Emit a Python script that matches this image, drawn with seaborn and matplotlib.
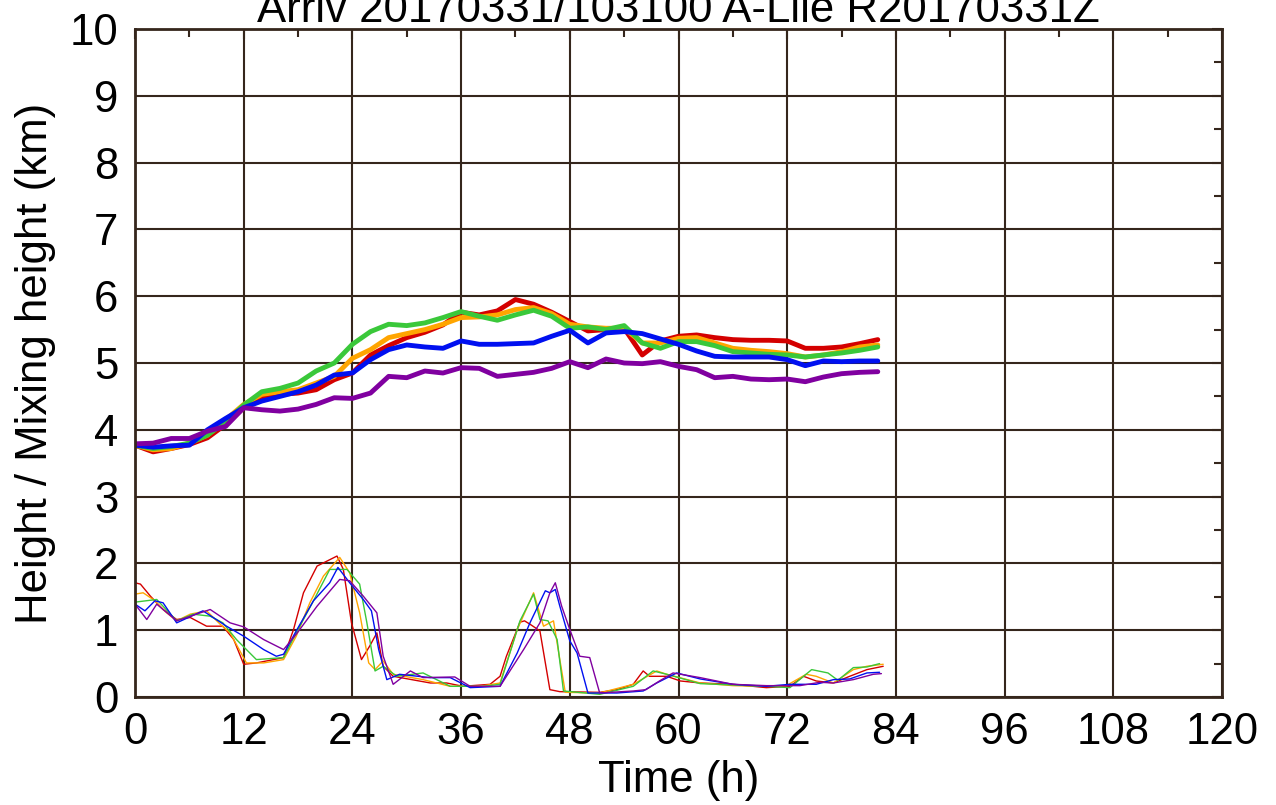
import matplotlib
matplotlib.use("Agg")
import matplotlib.pyplot as plt
from matplotlib.ticker import MultipleLocator
import numpy as np
import pandas as pd
import seaborn as sns

# ---------------- data ----------------
title = "Arriv 20170331/103100 A-Lile R20170331Z"
x_label = "Time (h)"
y_label = "Height / Mixing height (km)"
x_ticks = [0, 12, 24, 36, 48, 60, 72, 84, 96, 108, 120]
y_ticks = [0, 1, 2, 3, 4, 5, 6, 7, 8, 9, 10]

# trajectory heights (thick lines), every 2 h from 0 to 82 h
traj_time = list(range(0, 84, 2))
traj_red = [3.77, 3.67, 3.72, 3.78, 3.88, 4.08, 4.33, 4.48, 4.53, 4.55, 4.60, 4.75,
            4.85, 5.12, 5.26, 5.38, 5.46, 5.57, 5.76, 5.72, 5.78, 5.95, 5.88, 5.76,
            5.62, 5.48, 5.50, 5.52, 5.12, 5.33, 5.40, 5.42, 5.38, 5.35, 5.34, 5.34,
            5.33, 5.22, 5.22, 5.24, 5.29, 5.35]
traj_orange = [3.77, 3.70, 3.72, 3.80, 3.92, 4.15, 4.38, 4.53, 4.57, 4.60, 4.70, 4.80,
               5.07, 5.20, 5.38, 5.44, 5.50, 5.58, 5.68, 5.69, 5.72, 5.80, 5.83, 5.74,
               5.58, 5.54, 5.52, 5.52, 5.30, 5.30, 5.37, 5.38, 5.30, 5.22, 5.19, 5.17,
               5.14, 5.09, 5.12, 5.17, 5.24, 5.27]
traj_green = [3.77, 3.72, 3.75, 3.80, 3.92, 4.12, 4.37, 4.57, 4.62, 4.70, 4.88, 5.00,
              5.28, 5.47, 5.58, 5.56, 5.60, 5.68, 5.77, 5.70, 5.64, 5.72, 5.79, 5.70,
              5.52, 5.54, 5.50, 5.56, 5.30, 5.22, 5.32, 5.32, 5.26, 5.17, 5.15, 5.13,
              5.12, 5.09, 5.12, 5.15, 5.19, 5.24]
traj_blue = [3.77, 3.74, 3.76, 3.77, 4.00, 4.17, 4.33, 4.43, 4.50, 4.57, 4.67, 4.82,
             4.85, 5.05, 5.20, 5.27, 5.24, 5.22, 5.33, 5.28, 5.28, 5.29, 5.30, 5.40,
             5.49, 5.30, 5.45, 5.47, 5.44, 5.36, 5.28, 5.18, 5.10, 5.09, 5.09, 5.09,
             5.05, 4.96, 5.03, 5.02, 5.03, 5.03]
traj_purple = [3.79, 3.80, 3.87, 3.87, 3.98, 4.05, 4.33, 4.30, 4.28, 4.31, 4.38, 4.48,
               4.47, 4.55, 4.80, 4.78, 4.88, 4.85, 4.93, 4.92, 4.80, 4.83, 4.86, 4.92,
               5.02, 4.93, 5.06, 5.00, 4.99, 5.02, 4.95, 4.90, 4.78, 4.80, 4.76, 4.75,
               4.76, 4.72, 4.79, 4.84, 4.86, 4.87]

# mixing heights (thin lines)
mix_red_t = [0, 0.6, 1.7, 3.1, 4.6, 6.1, 7.9, 9.7, 10.9, 12, 13.4, 15.3, 16.4, 17.5, 18.6,
             20.1, 22.3, 23, 23.9, 25, 25.9, 26.7, 27.4, 28.5, 32.6, 34.4, 36.2, 39.2, 40.3,
             41, 42.5, 43, 43.6, 44.7, 45.8, 46.9, 51.3, 53.2, 55, 56.1, 56.8, 58.7, 60.2,
             62.4, 66, 69.7, 72.3, 73.8, 75.2, 77.1, 78.9, 80.8, 82.6]
mix_red = [1.71, 1.69, 1.51, 1.31, 1.16, 1.19, 1.06, 1.06, 0.86, 0.49, 0.51, 0.56, 0.59, 1.01,
           1.56, 1.96, 2.11, 1.91, 1.11, 0.56, 0.76, 0.96, 0.46, 0.31, 0.21, 0.21, 0.16, 0.19,
           0.31, 0.61, 1.12, 1.14, 1.09, 0.99, 0.11, 0.08, 0.07, 0.11, 0.19, 0.39, 0.31, 0.31,
           0.24, 0.21, 0.19, 0.14, 0.16, 0.31, 0.24, 0.21, 0.31, 0.41, 0.46]
mix_orange_t = [0, 0.9, 2, 3.5, 4.6, 6.1, 7.9, 9.4, 10.5, 12.3, 14.2, 16.4, 17.8, 19.3, 20.8,
                22.6, 23.7, 24.8, 25.8, 26.5, 27.4, 28.5, 31.8, 34.8, 38.1, 40.3, 42.2, 44,
                45.1, 46.2, 46.9, 47.5, 51.3, 55, 57.6, 58.7, 62.4, 66, 69.7, 71.9, 74.1,
                75.2, 77.1, 79.3, 80.8, 82.6]
mix_orange = [1.54, 1.56, 1.46, 1.26, 1.14, 1.24, 1.29, 1.09, 0.96, 0.51, 0.51, 0.56, 0.91,
              1.41, 1.81, 2.09, 1.86, 1.26, 0.51, 0.41, 0.54, 0.34, 0.26, 0.16, 0.16, 0.21,
              1.01, 1.56, 1.06, 1.14, 0.56, 0.07, 0.06, 0.19, 0.39, 0.34, 0.21, 0.17, 0.16,
              0.17, 0.34, 0.31, 0.21, 0.41, 0.46, 0.49]
mix_green_t = [0, 2.4, 4.6, 6.4, 8.3, 9.7, 11.2, 13.4, 16.4, 17.8, 19.7, 21.5, 23.4, 24.8,
               25.6, 26.5, 27.4, 28.9, 31.8, 34.8, 38.4, 40.3, 42.5, 44, 44.7, 45.6, 46.6,
               47.3, 51.3, 55, 57.2, 58.7, 62.4, 69.7, 72.3, 74.7, 76.5, 77.6, 79.3, 80.8, 82.2]
mix_green = [1.42, 1.46, 1.14, 1.24, 1.21, 1.11, 0.86, 0.56, 0.59, 0.96, 1.44, 1.91, 1.91,
             1.69, 1.11, 0.39, 0.46, 0.31, 0.36, 0.16, 0.16, 0.19, 1.14, 1.54, 1.16, 1.14,
             0.86, 0.09, 0.04, 0.16, 0.39, 0.34, 0.20, 0.16, 0.14, 0.41, 0.36, 0.25, 0.44,
             0.45, 0.50]
mix_blue_t = [0, 1.1, 2.2, 3.1, 4.6, 7.5, 10.1, 12, 14.2, 15.6, 16.4, 17.8, 19.7, 21.5, 22.4,
              23.7, 25.2, 26.1, 26.9, 27.8, 29.2, 32.6, 34.8, 37, 40.3, 42.2, 43.6, 45.3,
              45.8, 46.4, 46.9, 48, 48.8, 50, 53.2, 56.1, 57.6, 59.8, 62.4, 66, 69.7, 72.3,
              75.2, 77.1, 78.9, 80.8, 82.2]
mix_blue = [1.39, 1.29, 1.44, 1.41, 1.11, 1.29, 1.06, 0.91, 0.71, 0.61, 0.64, 0.99, 1.44,
            1.71, 1.94, 1.71, 1.46, 1.29, 0.71, 0.26, 0.34, 0.29, 0.29, 0.14, 0.16, 0.66,
            1.11, 1.59, 1.56, 1.61, 1.36, 0.84, 0.66, 0.06, 0.06, 0.09, 0.21, 0.36, 0.27,
            0.19, 0.16, 0.19, 0.19, 0.26, 0.27, 0.36, 0.37]
mix_purple_t = [0, 1.3, 2.4, 4.6, 8.3, 10.5, 12, 14.2, 16.4, 17.8, 20.1, 22.6, 23.7, 25.2,
                26.7, 27.4, 28.5, 30.4, 31.8, 35.3, 37, 40.3, 42.9, 44.7, 45.8, 46.4, 47.1,
                48, 49.1, 50.2, 51.3, 55, 56.4, 57.9, 59.4, 62.4, 66, 69.7, 73.4, 75.6, 77.1,
                79.3, 81.5, 82.4]
mix_purple = [1.39, 1.16, 1.39, 1.14, 1.31, 1.11, 1.05, 0.86, 0.71, 0.94, 1.36, 1.76, 1.74,
              1.51, 1.26, 0.61, 0.19, 0.39, 0.29, 0.30, 0.16, 0.16, 0.71, 1.11, 1.56, 1.71,
              1.36, 1.01, 0.61, 0.59, 0.06, 0.09, 0.11, 0.24, 0.36, 0.29, 0.19, 0.17, 0.17,
              0.22, 0.21, 0.26, 0.34, 0.35]

colors = ["#d40000", "#ffa500", "#3ac83a", "#0010f0", "#8000a0"]

# ---------------- plot ----------------
sns.set_theme(style="white")
plt.rcParams["font.family"] = ["Liberation Sans", "DejaVu Sans"]

fig = plt.figure(figsize=(12.76, 8.05), dpi=100)
ax = fig.add_axes([135 / 1276, 1 - 697 / 805, (1222 - 135) / 1276, (697 - 29) / 805])

frame_col = "#35261c"
fs = 31.5

ax.set_xlim(0, 120)
ax.set_ylim(0, 10)
ax.set_xticks(x_ticks)
ax.set_yticks(y_ticks)
ax.xaxis.set_minor_locator(MultipleLocator(6))
ax.yaxis.set_minor_locator(MultipleLocator(0.5))
ax.grid(True, which="major", color=frame_col, linewidth=1.5)
ax.set_axisbelow(True)
for s in ax.spines.values():
    s.set_color(frame_col)
    s.set_linewidth(2.0)
ax.tick_params(axis="both", which="both", direction="in", top=True, right=True,
               color=frame_col, labelsize=fs, labelcolor="black")
ax.tick_params(axis="both", which="major", length=7, width=1.5)
ax.tick_params(axis="both", which="minor", length=6, width=1.5)
ax.tick_params(axis="x", which="major", pad=11)
ax.tick_params(axis="y", which="major", pad=12)

mix_sets = [(mix_red_t, mix_red), (mix_orange_t, mix_orange), (mix_green_t, mix_green),
            (mix_blue_t, mix_blue), (mix_purple_t, mix_purple)]
for (t, v), c in zip(mix_sets, colors):
    sns.lineplot(x=t, y=v, ax=ax, color=c, linewidth=1.0, estimator=None, sort=False)

traj_sets = [traj_red, traj_orange, traj_green, traj_blue, traj_purple]
for v, c in zip(traj_sets, colors):
    sns.lineplot(x=traj_time, y=v, ax=ax, color=c, linewidth=3.5, estimator=None, sort=False)

ax.set_xlabel(x_label, fontsize=fs, labelpad=5, color="black")
ax.set_ylabel(y_label, fontsize=fs, labelpad=10, color="black")
ax.set_title(title, fontsize=fs, pad=5, color="black")

fig.savefig("out.png", dpi=100)
